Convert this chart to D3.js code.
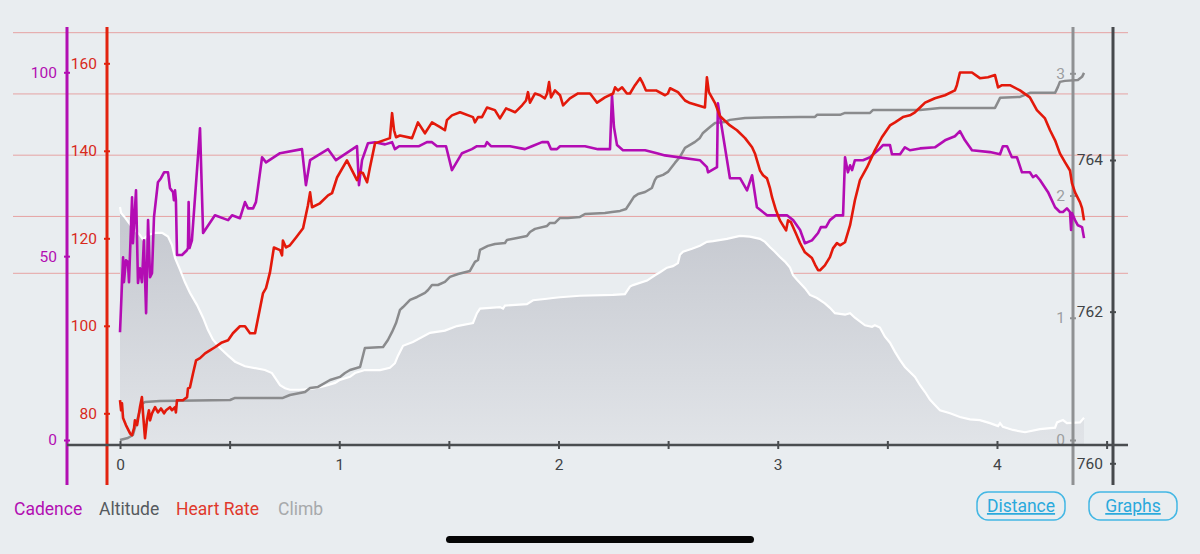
<!DOCTYPE html>
<html>
<head>
<meta charset="utf-8">
<script src="https://cdn.jsdelivr.net/npm/d3@7"></script>
<style>
  html, body { margin: 0; padding: 0; background: #e9edf0; }
  svg { display: block; }
</style>
</head>
<body>
<script>

// ---- data (distance in km, value) ----
var cadence = [
  [0.000, 29.3], [0.014, 49.7], [0.018, 42.9], [0.027, 48.9], [0.036, 48.4], [0.041, 42.9],
  [0.055, 66.0], [0.059, 53.5], [0.073, 67.9], [0.082, 42.7], [0.091, 46.7], [0.100, 42.9],
  [0.109, 54.3], [0.119, 34.5], [0.128, 59.8], [0.137, 44.3], [0.146, 45.4], [0.155, 60.6],
  [0.173, 70.1], [0.187, 71.2], [0.201, 72.8], [0.219, 72.8], [0.228, 68.5], [0.242, 67.4],
  [0.246, 65.2], [0.251, 67.9], [0.255, 65.2], [0.260, 50.3], [0.283, 50.3], [0.305, 51.6],
  [0.310, 52.2], [0.313, 64.7], [0.317, 52.2], [0.328, 54.3], [0.365, 84.8], [0.379, 56.3],
  [0.433, 61.1], [0.493, 59.8], [0.511, 61.1], [0.547, 60.3], [0.570, 64.7], [0.584, 63.0],
  [0.607, 63.0], [0.620, 64.7], [0.629, 68.5], [0.648, 76.9], [0.666, 75.5], [0.730, 78.0],
  [0.830, 79.1], [0.848, 69.3], [0.867, 76.1], [0.949, 79.1], [0.985, 76.1], [1.081, 79.9],
  [1.090, 69.3], [1.104, 76.1], [1.131, 80.7], [1.163, 81.0], [1.209, 80.4], [1.241, 81.0],
  [1.254, 79.1], [1.273, 79.9], [1.364, 79.9], [1.400, 81.0], [1.423, 81.0], [1.446, 79.9],
  [1.487, 79.9], [1.514, 73.4], [1.560, 78.0], [1.605, 79.1], [1.628, 79.9], [1.665, 79.9],
  [1.674, 81.0], [1.692, 79.9], [1.779, 79.9], [1.847, 79.1], [1.879, 79.9], [1.925, 81.0],
  [1.952, 81.0], [1.966, 79.1], [1.993, 79.1], [2.007, 79.9], [2.121, 79.9], [2.180, 79.1],
  [2.235, 79.1], [2.244, 93.8], [2.253, 85.1], [2.267, 80.2], [2.294, 78.8], [2.395, 78.8],
  [2.449, 78.0], [2.486, 77.4], [2.645, 76.1], [2.677, 74.2], [2.682, 72.8], [2.723, 74.2],
  [2.727, 91.6], [2.782, 71.2], [2.828, 71.2], [2.860, 67.9], [2.883, 72.0], [2.905, 63.3],
  [2.951, 61.1], [3.042, 61.1], [3.070, 59.8], [3.102, 57.1], [3.124, 53.5], [3.156, 54.3],
  [3.184, 56.3], [3.197, 57.9], [3.220, 57.9], [3.238, 59.8], [3.266, 61.1], [3.298, 61.1],
  [3.307, 76.9], [3.320, 72.8], [3.330, 74.7], [3.339, 73.4], [3.352, 76.1], [3.389, 76.1],
  [3.421, 76.9], [3.466, 79.3], [3.480, 80.2], [3.512, 80.2], [3.521, 77.7], [3.558, 77.7],
  [3.580, 79.6], [3.603, 78.8], [3.649, 79.3], [3.717, 79.6], [3.763, 81.5], [3.808, 82.6],
  [3.831, 84.0], [3.854, 81.5], [3.886, 78.8], [3.968, 78.3], [4.014, 77.7], [4.027, 79.9],
  [4.046, 79.9], [4.068, 76.9], [4.091, 76.9], [4.114, 72.8], [4.150, 72.8], [4.164, 71.5],
  [4.178, 72.0], [4.196, 70.7], [4.233, 67.4], [4.265, 63.3], [4.287, 62.0], [4.301, 62.0],
  [4.319, 63.0], [4.333, 62.0], [4.338, 57.1], [4.342, 61.7], [4.356, 59.8], [4.369, 58.4],
  [4.388, 57.9], [4.397, 54.9]
];

var heartRate = [
  [0.000, 83.0], [0.005, 80.7], [0.009, 82.3], [0.014, 78.9], [0.027, 77.3], [0.046, 75.4],
  [0.055, 75.0], [0.064, 76.6], [0.068, 78.4], [0.078, 77.3], [0.091, 81.4], [0.100, 83.7],
  [0.105, 80.0], [0.114, 74.3], [0.123, 78.4], [0.132, 80.7], [0.137, 78.4], [0.146, 80.0],
  [0.160, 81.4], [0.173, 80.2], [0.187, 81.1], [0.201, 80.0], [0.210, 80.7], [0.228, 81.4],
  [0.237, 80.7], [0.251, 81.4], [0.255, 80.2], [0.260, 83.0], [0.287, 83.0], [0.306, 83.7],
  [0.310, 85.7], [0.319, 85.9], [0.333, 89.1], [0.347, 92.1], [0.365, 92.6], [0.388, 93.7],
  [0.410, 94.4], [0.433, 95.1], [0.465, 96.2], [0.493, 96.7], [0.515, 98.3], [0.547, 99.9],
  [0.570, 99.9], [0.593, 98.3], [0.616, 98.3], [0.652, 107.4], [0.666, 108.6], [0.684, 112.2],
  [0.702, 117.9], [0.730, 117.3], [0.739, 116.1], [0.743, 119.5], [0.757, 117.9], [0.775, 118.4],
  [0.803, 120.2], [0.835, 122.3], [0.857, 127.5], [0.867, 130.5], [0.876, 127.1], [0.912, 128.0],
  [0.949, 129.8], [0.967, 130.3], [0.990, 133.9], [1.035, 137.8], [1.081, 133.3], [1.095, 135.1],
  [1.108, 134.9], [1.127, 132.8], [1.140, 136.2], [1.163, 141.7], [1.231, 142.9], [1.241, 148.6],
  [1.250, 144.7], [1.259, 143.1], [1.277, 143.5], [1.332, 142.9], [1.359, 146.5], [1.391, 144.0],
  [1.423, 146.5], [1.460, 145.4], [1.482, 144.7], [1.491, 147.0], [1.514, 148.1], [1.551, 148.8],
  [1.610, 147.7], [1.619, 146.5], [1.633, 147.7], [1.651, 147.7], [1.674, 149.9], [1.710, 149.3],
  [1.733, 147.4], [1.761, 149.7], [1.802, 148.8], [1.834, 150.4], [1.852, 151.5], [1.861, 153.4],
  [1.870, 151.0], [1.893, 153.1], [1.916, 152.7], [1.938, 152.0], [1.948, 153.1], [1.957, 155.7],
  [1.966, 152.2], [1.984, 153.8], [2.007, 152.7], [2.021, 150.4], [2.052, 152.0], [2.089, 153.1],
  [2.144, 153.1], [2.176, 151.0], [2.212, 152.2], [2.249, 153.1], [2.258, 154.5], [2.271, 153.8],
  [2.290, 154.5], [2.312, 153.1], [2.326, 153.1], [2.349, 155.0], [2.372, 156.6], [2.385, 155.4],
  [2.399, 153.8], [2.445, 153.8], [2.486, 152.7], [2.499, 153.1], [2.509, 154.3], [2.545, 153.4],
  [2.577, 151.5], [2.600, 150.9], [2.668, 149.9], [2.677, 156.8], [2.686, 153.4], [2.714, 150.9],
  [2.737, 147.9], [2.782, 145.8], [2.814, 144.7], [2.851, 142.9], [2.883, 140.8], [2.896, 139.4],
  [2.919, 135.5], [2.933, 134.4], [2.951, 133.7], [2.965, 131.4], [2.974, 129.4], [2.992, 126.4],
  [3.010, 124.1], [3.038, 121.8], [3.047, 124.1], [3.060, 123.7], [3.083, 121.1], [3.102, 118.9],
  [3.124, 116.8], [3.156, 115.5], [3.170, 114.0], [3.184, 112.7], [3.193, 112.7], [3.215, 113.8],
  [3.238, 115.7], [3.252, 117.7], [3.270, 118.9], [3.284, 118.4], [3.307, 119.1], [3.330, 123.0],
  [3.352, 128.7], [3.375, 133.3], [3.407, 136.2], [3.443, 140.1], [3.475, 143.1], [3.512, 145.8],
  [3.535, 146.5], [3.571, 147.7], [3.603, 148.1], [3.626, 148.8], [3.649, 149.9], [3.672, 151.0],
  [3.694, 151.5], [3.717, 152.0], [3.763, 152.7], [3.808, 153.8], [3.817, 155.0], [3.831, 157.9],
  [3.886, 157.9], [3.922, 156.6], [3.959, 156.8], [3.991, 157.3], [4.005, 154.5], [4.023, 155.0],
  [4.059, 155.0], [4.105, 153.8], [4.150, 152.2], [4.182, 149.3], [4.219, 147.4], [4.242, 144.7],
  [4.265, 142.4], [4.287, 139.4], [4.310, 137.4], [4.333, 135.5], [4.342, 132.6], [4.356, 130.5],
  [4.379, 128.2], [4.388, 126.9], [4.397, 124.1]
];

var climb = [
  [0.000, 0.000], [0.036, 0.016], [0.059, 0.041], [0.082, 0.188], [0.100, 0.295], [0.114, 0.311],
  [0.182, 0.319], [0.502, 0.327], [0.525, 0.344], [0.743, 0.344], [0.775, 0.368], [0.844, 0.393],
  [0.867, 0.426], [0.903, 0.434], [0.958, 0.491], [1.003, 0.516], [1.026, 0.548], [1.049, 0.573],
  [1.095, 0.597], [1.117, 0.753], [1.200, 0.761], [1.222, 0.818], [1.241, 0.884], [1.259, 0.957],
  [1.277, 1.064], [1.291, 1.088], [1.323, 1.146], [1.355, 1.170], [1.391, 1.203], [1.405, 1.227],
  [1.423, 1.268], [1.450, 1.268], [1.482, 1.293], [1.505, 1.334], [1.542, 1.358], [1.596, 1.383],
  [1.619, 1.457], [1.633, 1.473], [1.642, 1.555], [1.678, 1.588], [1.710, 1.604], [1.756, 1.612],
  [1.765, 1.637], [1.811, 1.653], [1.856, 1.669], [1.870, 1.702], [1.893, 1.727], [1.948, 1.751],
  [1.961, 1.776], [1.984, 1.776], [2.007, 1.817], [2.043, 1.817], [2.098, 1.825], [2.121, 1.849],
  [2.212, 1.858], [2.244, 1.866], [2.281, 1.874], [2.308, 1.890], [2.326, 1.939], [2.344, 1.989],
  [2.363, 2.013], [2.395, 2.029], [2.426, 2.062], [2.440, 2.128], [2.449, 2.152], [2.477, 2.169],
  [2.499, 2.193], [2.531, 2.267], [2.554, 2.316], [2.577, 2.390], [2.600, 2.414], [2.623, 2.439],
  [2.645, 2.471], [2.659, 2.512], [2.691, 2.561], [2.714, 2.594], [2.759, 2.602], [2.782, 2.619],
  [2.851, 2.635], [3.102, 2.643], [3.170, 2.643], [3.179, 2.660], [3.284, 2.660], [3.307, 2.676],
  [3.421, 2.676], [3.435, 2.700], [3.649, 2.700], [3.740, 2.717], [3.991, 2.717], [4.005, 2.766],
  [4.014, 2.799], [4.105, 2.807], [4.150, 2.840], [4.265, 2.840], [4.278, 2.889], [4.287, 2.930],
  [4.310, 2.938], [4.369, 2.946], [4.388, 2.971], [4.397, 3.003]
];

var altitude = [
  [0.000, 763.38], [0.005, 763.30], [0.023, 763.24], [0.059, 763.10], [0.091, 763.01], [0.105, 762.95],
  [0.128, 763.01], [0.160, 763.04], [0.192, 763.04], [0.219, 762.99], [0.237, 762.88], [0.251, 762.71],
  [0.274, 762.55], [0.296, 762.39], [0.319, 762.25], [0.351, 762.09], [0.379, 761.92], [0.401, 761.76],
  [0.424, 761.63], [0.456, 761.52], [0.493, 761.42], [0.525, 761.34], [0.570, 761.28], [0.661, 761.23],
  [0.693, 761.19], [0.707, 761.13], [0.730, 761.03], [0.753, 760.99], [0.775, 760.97], [0.821, 760.97],
  [0.867, 760.98], [0.889, 760.99], [0.935, 761.02], [0.981, 761.06], [1.003, 761.10], [1.049, 761.14],
  [1.072, 761.19], [1.117, 761.23], [1.186, 761.23], [1.231, 761.26], [1.254, 761.32], [1.268, 761.42],
  [1.291, 761.55], [1.336, 761.60], [1.414, 761.72], [1.482, 761.75], [1.537, 761.81], [1.610, 761.85],
  [1.628, 761.98], [1.642, 762.04], [1.733, 762.06], [1.747, 762.04], [1.756, 762.08], [1.856, 762.10],
  [1.884, 762.15], [1.948, 762.17], [1.975, 762.18], [2.007, 762.19], [2.098, 762.21], [2.249, 762.22],
  [2.303, 762.23], [2.326, 762.33], [2.340, 762.35], [2.404, 762.41], [2.440, 762.48], [2.463, 762.52],
  [2.495, 762.58], [2.522, 762.60], [2.545, 762.64], [2.554, 762.75], [2.568, 762.79], [2.609, 762.83],
  [2.645, 762.87], [2.677, 762.92], [2.705, 762.93], [2.768, 762.96], [2.828, 763.00], [2.873, 762.99],
  [2.919, 762.96], [2.942, 762.92], [2.965, 762.85], [2.987, 762.79], [3.010, 762.72], [3.033, 762.66],
  [3.056, 762.58], [3.070, 762.48], [3.088, 762.42], [3.124, 762.31], [3.147, 762.22], [3.179, 762.18],
  [3.215, 762.11], [3.238, 762.05], [3.261, 761.98], [3.307, 761.96], [3.330, 761.98], [3.352, 761.92],
  [3.398, 761.82], [3.430, 761.80], [3.443, 761.82], [3.466, 761.79], [3.489, 761.67], [3.512, 761.59],
  [3.535, 761.47], [3.558, 761.36], [3.580, 761.27], [3.626, 761.14], [3.649, 761.03], [3.672, 760.94],
  [3.694, 760.84], [3.717, 760.77], [3.740, 760.70], [3.786, 760.66], [3.831, 760.61], [3.877, 760.58],
  [3.922, 760.57], [3.968, 760.53], [4.005, 760.49], [4.014, 760.53], [4.027, 760.48], [4.073, 760.44],
  [4.128, 760.41], [4.196, 760.45], [4.265, 760.47], [4.274, 760.54], [4.301, 760.57], [4.319, 760.53],
  [4.379, 760.54], [4.397, 760.60]
];

// ticks and zones
var distTicks = [0, 0.5, 1, 1.5, 2, 2.5, 3, 3.5, 4, 4.5];
var cadenceTicks = [0, 50, 100];
var hrTicks = [80, 100, 120, 140, 160];
var climbTicks = [0, 1, 2, 3];
var altTicks = [760, 762, 764];
var hrZones = [167, 153, 139, 125, 112];

var legendNames = ["Cadence", "Altitude", "Heart Rate", "Climb"];
var legendColors = ["#b20fb2", "#555a5e", "#e0392c", "#a7a9ab"];
var buttonNames = ["Distance", "Graphs"];

// ---- drawing ----
var w = 1200, h = 554;
var font = "Roboto, 'Noto Sans', sans-serif";

var svg = d3.select("body").append("svg")
  .attr("width", w)
  .attr("height", h);

svg.append("rect").attr("width", w).attr("height", h).attr("fill", "#e9edf0");

// scales
var x = d3.scaleLinear().domain([0, 4.5]).range([120, 1106.6]);
var yCad = d3.scaleLinear().domain([0, 100]).range([440, 72.3]);
var yHr = d3.scaleLinear().domain([80, 160]).range([413.3, 63.3]);
var yClimb = d3.scaleLinear().domain([0, 3]).range([440, 73.3]);
var yAlt = d3.scaleLinear().domain([760, 764]).range([463.3, 160]);

var axisY = 445;

// gradient for the altitude profile
var defs = svg.append("defs");
var grad = defs.append("linearGradient")
  .attr("id", "altFill")
  .attr("gradientUnits", "userSpaceOnUse")
  .attr("x1", 0).attr("y1", 230).attr("x2", 0).attr("y2", axisY);
grad.append("stop").attr("offset", 0).attr("stop-color", "#c7cad1");
grad.append("stop").attr("offset", 1).attr("stop-color", "#e1e4e8");

// heart rate zone lines
svg.append("g").selectAll("line")
  .data(hrZones)
  .enter().append("line")
  .attr("x1", 13).attr("x2", 1128)
  .attr("y1", d => yHr(d)).attr("y2", d => yHr(d))
  .attr("stroke", "#e6a3a3")
  .attr("stroke-width", 1);

// altitude area
var area = d3.area()
  .x(d => x(d[0]))
  .y0(axisY)
  .y1(d => yAlt(d[1]));

svg.append("path")
  .datum(altitude)
  .attr("d", area)
  .attr("fill", "url(#altFill)");

svg.append("path")
  .datum(altitude)
  .attr("d", d3.line().x(d => x(d[0])).y(d => yAlt(d[1])))
  .attr("fill", "none")
  .attr("stroke", "#ffffff")
  .attr("stroke-width", 2.2);

// vertical axes
function drawYAxis(scale, values, xPos, color, textColor, pad) {
  var g = svg.append("g")
    .attr("transform", `translate(${xPos},0)`)
    .call(d3.axisLeft(scale).tickValues(values).tickSize(0).tickPadding(pad)
      .tickFormat(d3.format("d")));
  g.select(".domain").remove();
  g.insert("line", ":first-child")
    .attr("y1", 27).attr("y2", 485)
    .attr("stroke", color).attr("stroke-width", 3);
  g.selectAll(".tick line")
    .attr("x1", -3).attr("x2", 3)
    .attr("stroke", color).attr("stroke-width", 2);
  g.selectAll(".tick text")
    .attr("fill", textColor)
    .style("font-family", font)
    .style("font-size", "15.5px");
  return g;
}

drawYAxis(yCad, cadenceTicks, 67, "#b20fb2", "#b20fb2", 10);
drawYAxis(yHr, hrTicks, 107, "#e2230f", "#d8291b", 10);
drawYAxis(yClimb, climbTicks, 1073, "#8f9193", "#9c9ea0", 8);
drawYAxis(yAlt, altTicks, 1113, "#46494c", "#404346", 10);

// distance axis
var xg = svg.append("g")
  .attr("transform", `translate(0,${axisY})`)
  .call(d3.axisBottom(x).tickValues(distTicks).tickSize(0).tickPadding(14)
    .tickFormat(d => d % 1 === 0 ? d : ""));
xg.select(".domain").remove();
xg.insert("line", ":first-child")
  .attr("x1", 67).attr("x2", 1128)
  .attr("stroke", "#4a4d50").attr("stroke-width", 2.5);
xg.selectAll(".tick line")
  .attr("y1", -4).attr("y2", 4)
  .attr("stroke", "#4a4d50").attr("stroke-width", 2);
xg.selectAll(".tick text")
  .attr("fill", "#404346")
  .style("font-family", font)
  .style("font-size", "15.5px");

// series lines
svg.append("path")
  .datum(climb)
  .attr("d", d3.line().x(d => x(d[0])).y(d => yClimb(d[1])))
  .attr("fill", "none")
  .attr("stroke", "#8a8b8d")
  .attr("stroke-width", 2.5)
  .attr("stroke-linejoin", "round");

svg.append("path")
  .datum(cadence)
  .attr("d", d3.line().x(d => x(d[0])).y(d => yCad(d[1])))
  .attr("fill", "none")
  .attr("stroke", "#b30cb3")
  .attr("stroke-width", 2.6)
  .attr("stroke-linejoin", "round");

svg.append("path")
  .datum(heartRate)
  .attr("d", d3.line().x(d => x(d[0])).y(d => yHr(d[1])))
  .attr("fill", "none")
  .attr("stroke", "#e3190b")
  .attr("stroke-width", 2.6)
  .attr("stroke-linejoin", "round");

// legend
var legendX = [14, 99, 176, 278];
svg.append("g").selectAll("text")
  .data(legendNames)
  .enter().append("text")
  .attr("x", (d, i) => legendX[i])
  .attr("y", 515)
  .attr("fill", (d, i) => legendColors[i])
  .style("font-family", font)
  .style("font-size", "17.5px")
  .text(d => d);

// buttons
var btnX = [977, 1089];
var btn = svg.append("g").selectAll("g")
  .data(buttonNames)
  .enter().append("g")
  .attr("transform", (d, i) => `translate(${btnX[i]},492)`);
btn.append("rect")
  .attr("width", 88).attr("height", 28).attr("rx", 11)
  .attr("fill", "none")
  .attr("stroke", "#43b7e4")
  .attr("stroke-width", 1.5);
btn.append("text")
  .attr("x", 44).attr("y", 20)
  .attr("text-anchor", "middle")
  .attr("fill", "#2aa9dc")
  .attr("text-decoration", "underline")
  .style("font-family", font)
  .style("font-size", "17.5px")
  .text(d => d);

// home indicator
svg.append("rect")
  .attr("x", 446).attr("y", 536)
  .attr("width", 308).attr("height", 7)
  .attr("rx", 3.5)
  .attr("fill", "#050505");

</script>
</body>
</html>
